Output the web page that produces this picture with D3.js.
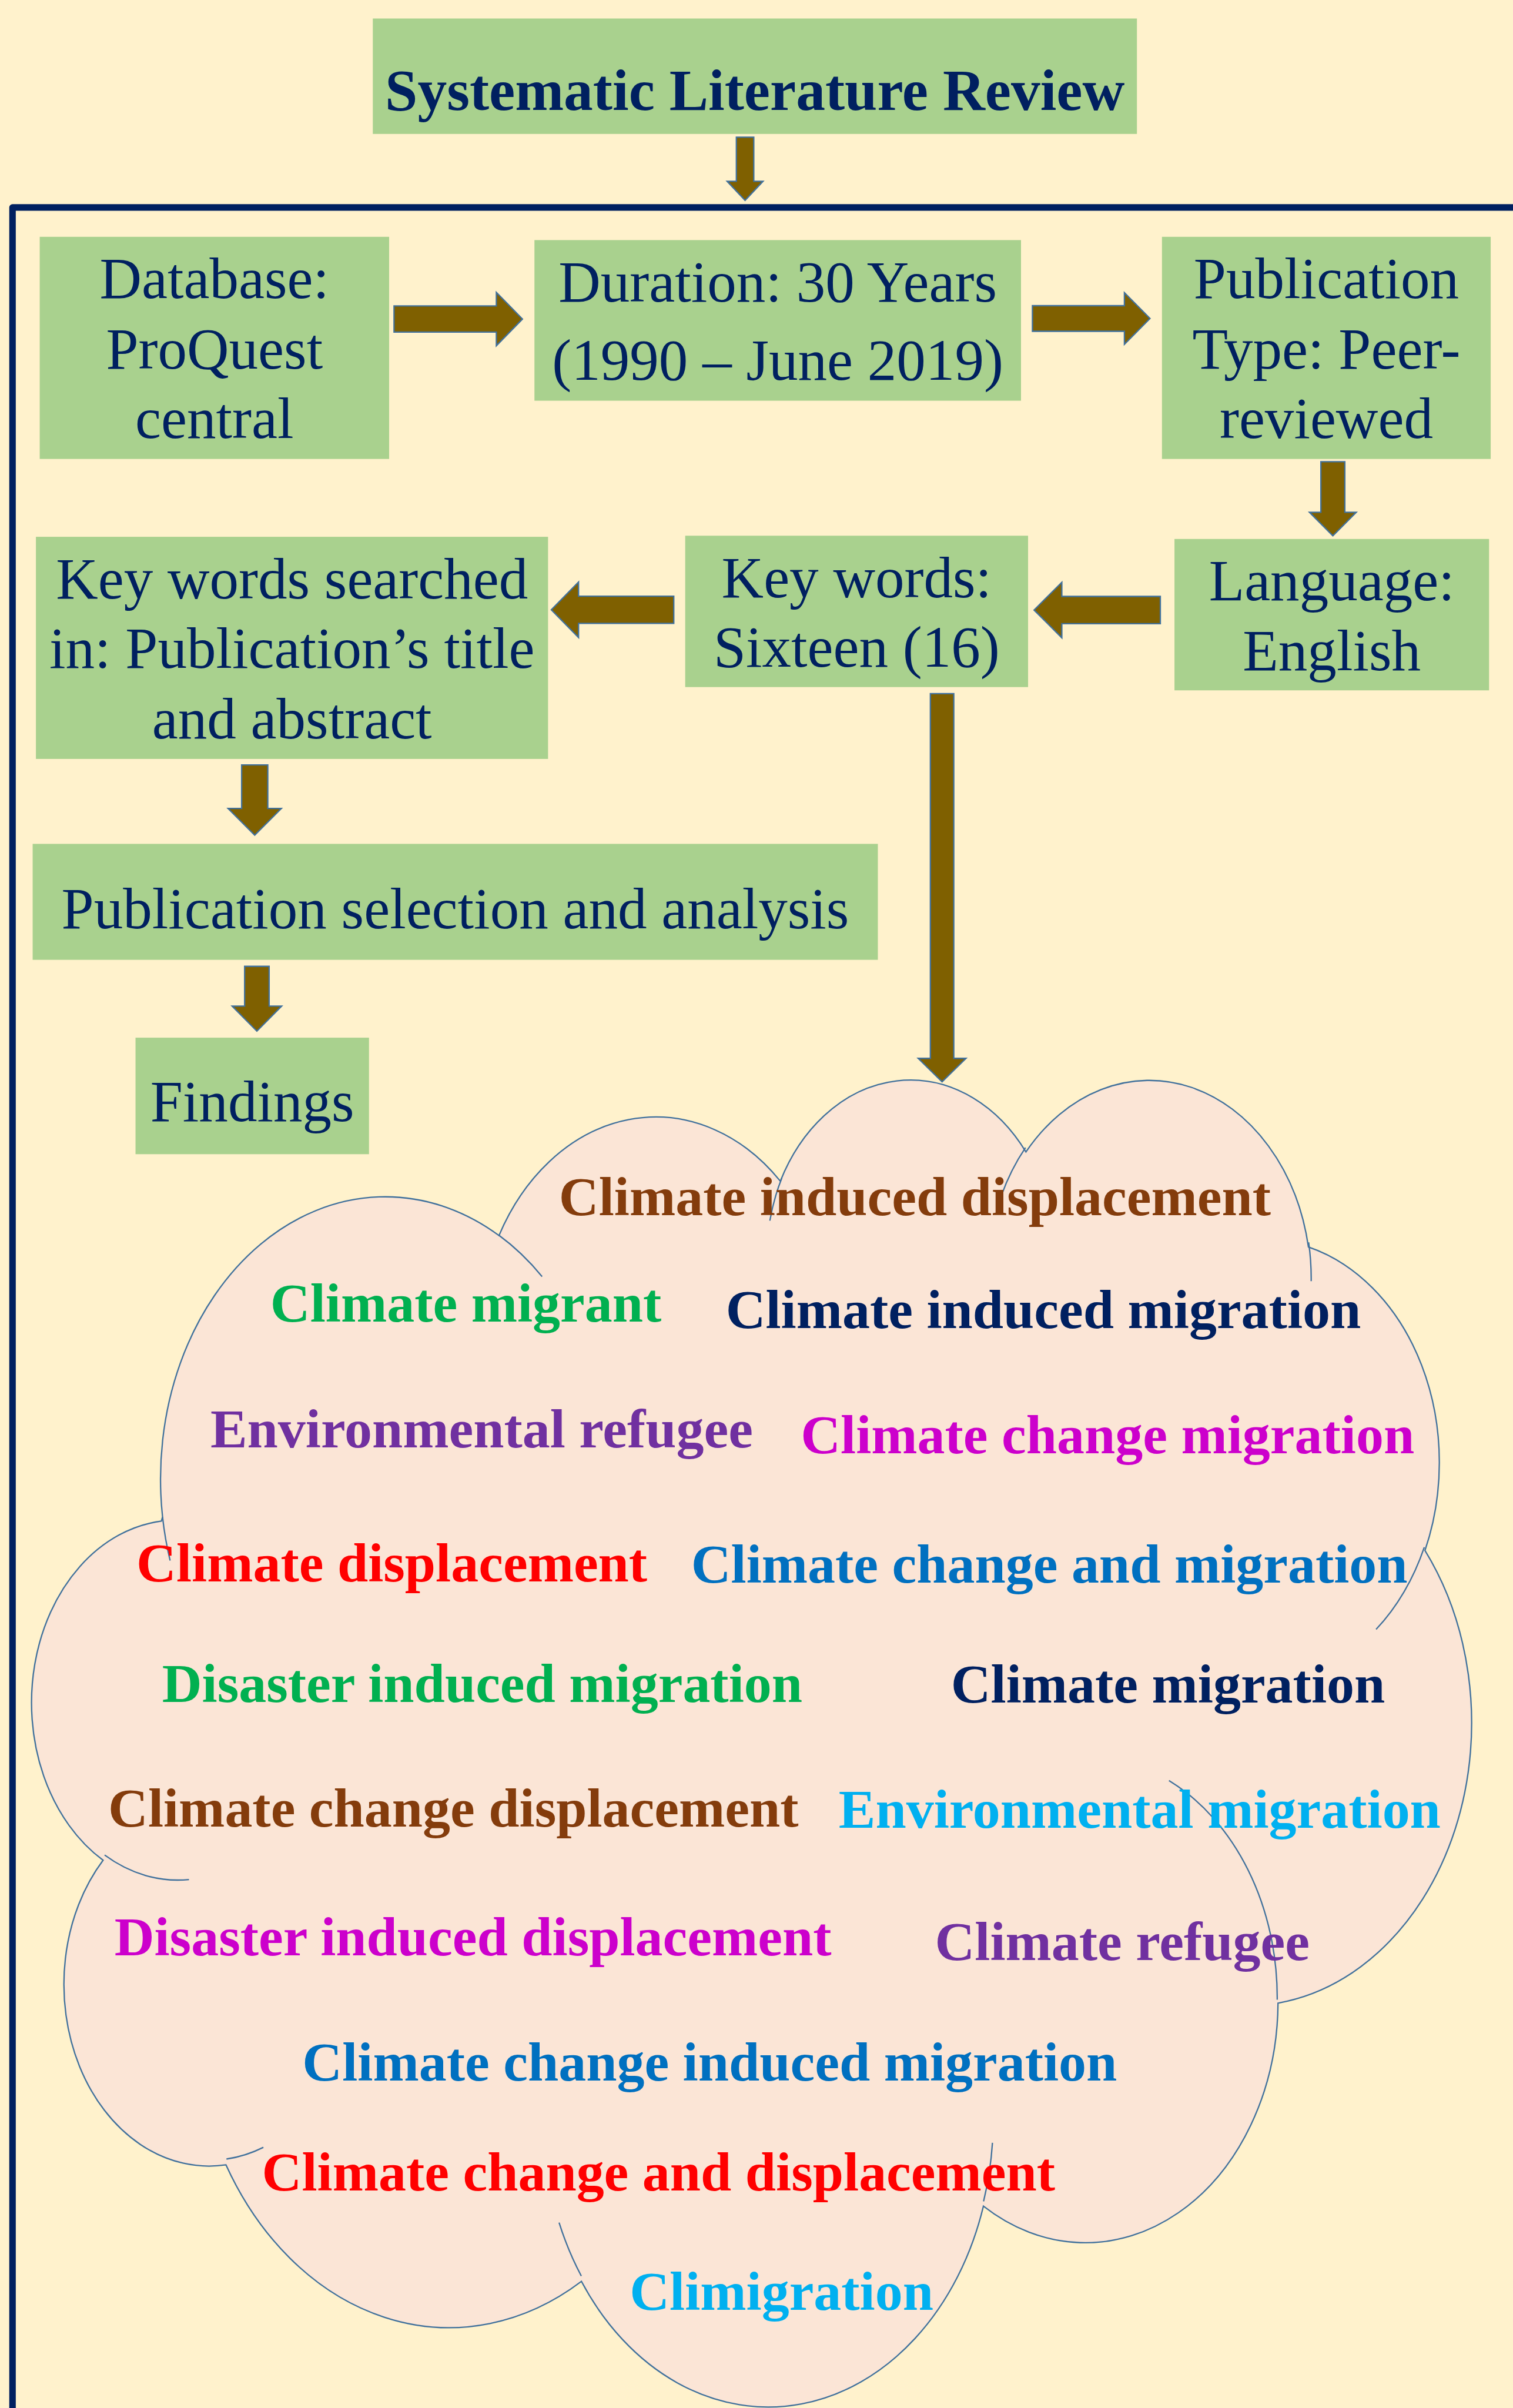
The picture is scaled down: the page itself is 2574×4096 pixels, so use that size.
<!DOCTYPE html>
<html><head><meta charset="utf-8">
<script src="https://cdn.jsdelivr.net/npm/d3@7"></script>
<style>html,body{margin:0;padding:0;background:#FFF2CC;overflow:hidden}svg{display:block}</style>
</head><body><svg id="c"></svg>
<script>
// ---------- data (texts) ----------
const stepNames = ["title","database","duration","pubtype","language","keywords","kwsearched","pubsel","findings"];
const stepLines = [
  ["Systematic Literature Review"],
  ["Database:","ProQuest","central"],
  ["Duration: 30 Years","(1990 \u2013 June 2019)"],
  ["Publication","Type: Peer-","reviewed"],
  ["Language:","English"],
  ["Key words:","Sixteen (16)"],
  ["Key words searched","in: Publication\u2019s title","and abstract"],
  ["Publication selection and analysis"],
  ["Findings"]
];
const keywords = [
  "Climate induced displacement","Climate migrant","Climate induced migration",
  "Environmental refugee","Climate change migration","Climate displacement",
  "Climate change and migration","Disaster induced migration","Climate migration",
  "Climate change displacement","Environmental migration","Disaster induced displacement",
  "Climate refugee","Climate change induced migration","Climate change and displacement",
  "Climigration"
];
const keywordColors = [
  "#843C0C","#00B050","#002060","#7030A0","#CC00CC","#FF0000","#0070C0","#00B050",
  "#002060","#843C0C","#00B0F0","#CC00CC","#7030A0","#0070C0","#FF0000","#00B0F0"
];

// ---------- layout (reference pixel space 2780 x 4423) ----------
const boxRects = [ // x, y, w, h
  [685,34,1404,212],[73,435,642,408],[982,441,894,295],[2135,435,604,408],
  [2158,990,578,278],[1259,984,630,278],[66,986,941,408],[60,1550,1553,213],[249,1906,429,214]
];
const boxBaselines = [
  [202],[548,677,805],[554,698],[548,677,805],[1103,1231],[1097,1225],[1099,1227,1356],[1705],[2059]
];
const keywordPos = [ // center x, baseline
  [1681,2232],[856,2427],[1917,2439],[885,2659],[2035,2669],[720,2905],[1928,2907],
  [886,3126],[2146,3127],[833,3355],[2094,3357],[869,3592],[2062,3600],[1304,3822],
  [1210,4024],[1436,4243]
];
// arrows: direction, axis position, start, tip, shaft half width, head half width, head length
const arrows = [
  ["down",1369,252,368,16,33,35],
  ["right",586,724,960,24,49,48],
  ["right",585,1897,2113,23.5,47.5,47],
  ["down",2449,848,984,22,43,43],
  ["left",1120.5,2132,1900,25,51,51],
  ["left",1120,1238,1013,25,51,50],
  ["down",468,1405,1534,24,49,49],
  ["down",472,1775,1894,22.5,45.5,46],
  ["down",1731,1274,1987,21.5,44,43]
];
const cloudBox = [58,1984,2704,4421];

// PowerPoint "cloud" preset geometry (43200 space)
const cloudMain = [
  {m:[3900,14370]},
  {a:[6753,9190,-11429249,7426832]},
  {a:[5333,7267,-8646143,5396714]},
  {a:[4365,5945,-8748475,5983381]},
  {a:[4857,6595,-7859164,7034504]},
  {a:[5333,7273,-4722533,6541615]},
  {a:[6775,9220,-2776035,7816140]},
  {a:[5785,7867,37501,6842000]},
  {a:[6752,9215,1347096,6910353]},
  {a:[7720,10543,3974558,4542661]},
  {a:[4360,5918,-16496525,8804134]},
  {a:[4345,5945,-14809710,9151131]}
];
const cloudInner = [
  {m:[4693,26177]},{a:[4345,5945,5204520,1585770]},
  {m:[6928,34899]},{a:[4360,5918,4416628,686848]},
  {m:[16478,39090]},{a:[6752,9215,8257449,844866]},
  {m:[28827,34751]},{a:[6752,9215,387196,959901]},
  {m:[34129,22954]},{a:[5785,7867,-4217541,4255042]},
  {m:[41798,15354]},{a:[5333,7273,1819082,1665090]},
  {m:[38324,5426]},{a:[4857,6595,-824660,891534]},
  {m:[29078,3952]},{a:[4857,6595,-8950887,1091722]},
  {m:[22141,4720]},{a:[4365,5945,-9809656,1061181]},
  {m:[14000,5192]},{a:[6753,9190,-4002417,739161]},
  {m:[4127,15789]},{a:[6753,9190,9459261,711490]}
];

// ---------- scales ----------
const W = 2574, H = 4096, k = 2574/2780;
const sx = d3.scaleLinear().domain([0,2780]).range([0,W]);
const sy = d3.scaleLinear().domain([0,4423]).range([0,H]);

const svg = d3.select("#c").attr("width",W).attr("height",H);
svg.append("rect").attr("width",W).attr("height",H).attr("fill","#FFF2CC");

const NAVY = "#002060", GREEN = "#A9D18E", OLIVE = "#7F6000", OUTLINE = "#41719C";
const SERIF = "'Liberation Serif','Times New Roman',Times,serif";

// frame
svg.append("path")
  .attr("d", d3.line()([[sx(23),sy(4500)],[sx(23),sy(381)],[sx(2820),sy(381)]]))
  .attr("fill","none").attr("stroke",NAVY).attr("stroke-width",12*k)
  .attr("stroke-linejoin","round");

// boxes
const gBoxes = svg.append("g");
stepNames.forEach((name,i) => {
  const [x,y,w,h] = boxRects[i];
  const g = gBoxes.append("g").attr("class","box-"+name);
  g.append("rect").attr("x",sx(x)).attr("y",sy(y)).attr("width",sx(x+w)-sx(x)).attr("height",sy(y+h)-sy(y))
    .attr("fill",GREEN);
  stepLines[i].forEach((line,j) => {
    g.append("text").attr("x",sx(x+w/2)).attr("y",sy(boxBaselines[i][j]))
      .attr("text-anchor","middle")
      .attr("font-family",SERIF)
      .attr("font-weight", i===0 ? "bold" : "normal")
      .attr("font-size",(i===0?107.5:107)*k)
      .attr("fill",NAVY)
      .text(line);
  });
});

// arrows
function arrowPoints(a){
  const [dir,c,s,t,sw,hw,hl] = a;
  const sgn = (dir==="down"||dir==="right") ? 1 : -1;
  const b = t - sgn*hl;
  let pts = [[s,c-sw],[b,c-sw],[b,c-hw],[t,c],[b,c+hw],[b,c+sw],[s,c+sw]];
  if (dir==="down"||dir==="up") pts = pts.map(p=>[p[1],p[0]]);
  return pts.map(p=>[sx(p[0]),sy(p[1])]);
}
svg.append("g").selectAll("path").data(arrows).join("path")
  .attr("d", a => d3.line()(arrowPoints(a)) + "Z")
  .attr("fill",OLIVE).attr("stroke",OUTLINE).attr("stroke-width",2.5*k)
  .attr("stroke-linejoin","miter");

// cloud
function ellPt(wR,hR,ang){
  const t = Math.atan2(wR*Math.sin(ang), hR*Math.cos(ang));
  return [wR*Math.cos(t), hR*Math.sin(t)];
}
function buildSegments(cmds){
  const segs = []; let cx=0, cy=0;
  cmds.forEach(c => {
    if (c.m){ cx=c.m[0]; cy=c.m[1]; segs.push({type:"M",pt:[cx,cy]}); }
    else {
      const [wR,hR,st,sw] = c.a;
      const a1 = st/60000*Math.PI/180, a2 = (st+sw)/60000*Math.PI/180;
      const p1 = ellPt(wR,hR,a1);
      const ox = cx-p1[0], oy = cy-p1[1];
      const samples = [];
      for (let i=0;i<=40;i++){ const a=a1+(a2-a1)*i/40; const p=ellPt(wR,hR,a); samples.push([ox+p[0],oy+p[1]]); }
      const end = samples[samples.length-1];
      segs.push({type:"A",wR,hR,large:Math.abs(sw/60000)>180?1:0,sweep:sw>0?1:0,pt:end,samples});
      cx=end[0]; cy=end[1];
    }
  });
  return segs;
}
const mainSegs = buildSegments(cloudMain);
const innerSegs = buildSegments(cloudInner);
let allPts = [];
mainSegs.forEach(s => { if (s.samples) allPts = allPts.concat(s.samples); else allPts.push(s.pt); });
const bx0 = d3.min(allPts,p=>p[0]), bx1 = d3.max(allPts,p=>p[0]);
const by0 = d3.min(allPts,p=>p[1]), by1 = d3.max(allPts,p=>p[1]);
const cxs = d3.scaleLinear().domain([bx0,bx1]).range([sx(cloudBox[0]),sx(cloudBox[2])]);
const cys = d3.scaleLinear().domain([by0,by1]).range([sy(cloudBox[1]),sy(cloudBox[3])]);
const kx = (cxs(1)-cxs(0)), ky = (cys(1)-cys(0));
function segsToD(segs, close){
  let d = "";
  segs.forEach(s => {
    if (s.type==="M") d += `M${cxs(s.pt[0])},${cys(s.pt[1])}`;
    else d += `A${s.wR*kx},${s.hR*ky} 0 ${s.large} ${s.sweep} ${cxs(s.pt[0])},${cys(s.pt[1])}`;
  });
  return close ? d+"Z" : d;
}
const gCloud = svg.append("g");
gCloud.append("path").attr("d",segsToD(mainSegs,true))
  .attr("fill","#FBE5D6").attr("stroke",OUTLINE).attr("stroke-width",2.5*k);
gCloud.append("path").attr("d",segsToD(innerSegs,false))
  .attr("fill","none").attr("stroke",OUTLINE).attr("stroke-width",2.5*k);

// keywords
svg.append("g").selectAll("text").data(keywords).join("text")
  .attr("x",(d,i)=>sx(keywordPos[i][0]))
  .attr("y",(d,i)=>sy(keywordPos[i][1]))
  .attr("text-anchor","middle")
  .attr("font-family",SERIF).attr("font-weight","bold")
  .attr("font-size",101.5*k)
  .attr("fill",(d,i)=>keywordColors[i])
  .text(d=>d);
</script>
</body></html>
